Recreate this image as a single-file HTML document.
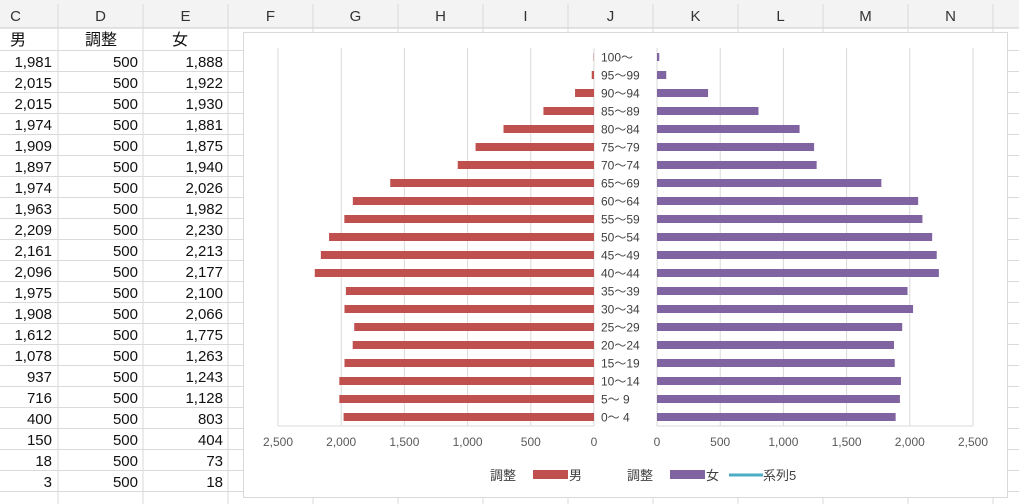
<!DOCTYPE html>
<html><head><meta charset="utf-8"><style>
body{margin:0;width:1019px;height:504px;overflow:hidden;background:#fff;font-family:"Liberation Sans","Noto Sans CJK JP",sans-serif;position:relative}
</style></head><body>
<svg id="s" width="1019" height="504" style="position:absolute;left:0;top:0"></svg>
<script>
const ages=["0～ 4","5～ 9","10～14","15～19","20～24","25～29","30～34","35～39","40～44","45～49","50～54","55～59","60～64","65～69","70～74","75～79","80～84","85～89","90～94","95～99","100～"];
const male=[1981,2015,2015,1974,1909,1897,1974,1963,2209,2161,2096,1975,1908,1612,1078,937,716,400,150,18,3];
const female=[1888,1922,1930,1881,1875,1940,2026,1982,2230,2213,2177,2100,2066,1775,1263,1243,1128,803,404,73,18];
const adj=[500,500,500,500,500,500,500,500,500,500,500,500,500,500,500,500,500,500,500,500,500];
const ticks=[0,500,1000,1500,2000,2500];
const cols=["C","D","E","F","G","H","I","J","K","L","M","N"];
const s=document.getElementById('s');const NS="http://www.w3.org/2000/svg";
function el(t,a,txt){const e=document.createElementNS(NS,t);for(const k in a)e.setAttribute(k,a[k]);if(txt!==undefined)e.textContent=txt;s.appendChild(e);return e;}
const fmt=v=>v.toLocaleString('en-US');
let e=el('rect',{x:0,y:0,width:1019,height:28,fill:'#f3f3f3'});

el('line',{x1:0,y1:28,x2:1019,y2:28,stroke:'#c8c8c8'});
const bounds=[-27,58,143,228,313,398,483,568,653,738,823,908,993,1078];
cols.forEach((c,i)=>{const cx=(bounds[i]+bounds[i+1])/2;
 e=el('text',{x:cx,y:21,'text-anchor':'middle','font-size':15,fill:'#333'},c);
 
 el('line',{x1:bounds[i+1],y1:4,x2:bounds[i+1],y2:504,stroke:'#dadada'});});
for(let r=0;r<23;r++){el('line',{x1:0,y1:50.5+21*r,x2:1019,y2:50.5+21*r,stroke:'#dadada'});}
[["男",10],["調整",85],["女",172]].forEach(([t,x])=>{e=el('text',{x:x,y:45,'font-size':16,fill:'#111'},t);
 });
male.forEach((m,i)=>{const y=67+21*i;
 e=el('text',{x:52,y:y,'text-anchor':'end','font-size':15,fill:'#111'},fmt(m));
 e=el('text',{x:138,y:y,'text-anchor':'end','font-size':15,fill:'#111'},fmt(adj[i]));
 e=el('text',{x:223,y:y,'text-anchor':'end','font-size':15,fill:'#111'},fmt(female[i]));});
e=el('rect',{x:243.5,y:32.5,width:764,height:465,fill:'#fff',stroke:'#d9d9d9'});

const sc=63.2/500, L0=594, R0=657, plotTop=48, plotBot=426;
const xl=v=>L0-v*sc, xr=v=>R0+v*sc;
const yc=i=>417-18*i;
ticks.forEach(t=>{
 el('line',{x1:xl(t),y1:plotTop,x2:xl(t),y2:plotBot,stroke:'#d9d9d9'});
 el('line',{x1:xr(t),y1:plotTop,x2:xr(t),y2:plotBot,stroke:'#d9d9d9'});
 e=el('text',{x:xl(t),y:446,'text-anchor':'middle','font-size':12,fill:'#595959'},fmt(t));
 e=el('text',{x:xr(t),y:446,'text-anchor':'middle','font-size':12,fill:'#595959'},fmt(t));});
el('line',{x1:xl(2500),y1:plotBot,x2:L0,y2:plotBot,stroke:'#d9d9d9'});
el('line',{x1:R0,y1:plotBot,x2:xr(2500),y2:plotBot,stroke:'#d9d9d9'});
el('rect',{x:595,y:plotTop,width:61,height:plotBot-plotTop,fill:'#fff'});
ages.forEach((a,i)=>{const y=yc(i);
 e=el('rect',{x:xl(male[i]),y:y-4,width:male[i]*sc,height:8,fill:'#C0504D'});
 e=el('rect',{x:R0,y:y-4,width:female[i]*sc,height:8,fill:'#8064A2'});
 e=el('text',{x:601,y:y+4.5,'font-size':12,fill:'#404040'},a);});
e=el('text',{x:490,y:480,'font-size':13,fill:'#404040'},'調整');
e=el('rect',{x:533,y:470,width:35,height:9,fill:'#C0504D'});
e=el('text',{x:569,y:480,'font-size':13,fill:'#404040'},'男');
e=el('text',{x:627,y:480,'font-size':13,fill:'#404040'},'調整');
e=el('rect',{x:670,y:470,width:35,height:9,fill:'#8064A2'});
e=el('text',{x:706,y:480,'font-size':13,fill:'#404040'},'女');
e=el('line',{x1:729,y1:475,x2:763,y2:475,stroke:'#4BACC6','stroke-width':3});
e=el('text',{x:763,y:480,'font-size':13,fill:'#404040'},'系列5');
</script>
</body></html>
